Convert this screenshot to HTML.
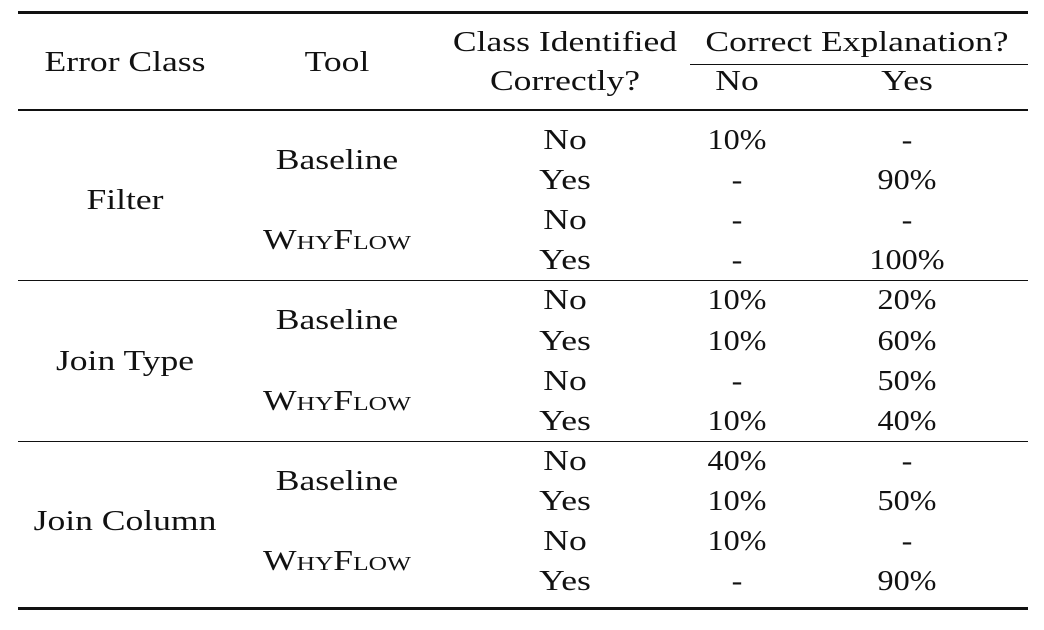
<!DOCTYPE html>
<html><head><meta charset="utf-8"><style>
body{margin:0;width:1044px;height:630px;background:#fff;overflow:hidden;position:relative;font-family:"Liberation Serif",serif;color:#111;}
.t{position:absolute;font-size:28px;line-height:1;transform:translate(-50%,-50%) scaleX(1.27);white-space:nowrap;}
.t.n{transform:translate(-50%,-50%) scaleX(1.15);}
.r{position:absolute;background:#111;}
.sc{font-variant:small-caps;}
</style></head><body>
<div class="r" style="left:18px;top:11px;width:1010px;height:3px"></div>
<div class="r" style="left:690px;top:64px;width:338px;height:1px"></div>
<div class="r" style="left:18px;top:109px;width:1010px;height:2px"></div>
<div class="r" style="left:18px;top:280px;width:1010px;height:1px"></div>
<div class="r" style="left:18px;top:441px;width:1010px;height:1px"></div>
<div class="r" style="left:18px;top:607px;width:1010px;height:3px"></div>

<div class="t" style="left:125px;top:63px">Error Class</div>
<div class="t" style="left:337px;top:63px">Tool</div>
<div class="t" style="left:565px;top:43px">Class Identified</div>
<div class="t" style="left:565px;top:82px">Correctly?</div>
<div class="t" style="left:857px;top:43px">Correct Explanation?</div>
<div class="t" style="left:737px;top:82px">No</div>
<div class="t" style="left:907px;top:82px">Yes</div>

<div id="body"></div>
<script>
const groups=["Filter","Join Type","Join Column"];
const tools=["Baseline","WhyFlow"];
const ident=["No","Yes"];
const noCol=["10%","-","-","-","10%","10%","-","10%","40%","10%","10%","-"];
const yesCol=["-","90%","-","100%","20%","60%","50%","40%","-","50%","-","90%"];
const b=document.getElementById('body');
function add(txt,x,y,name,cls){const d=document.createElement('div');d.className='t'+(cls?' '+cls:'');d.textContent=txt;d.style.left=x+'px';d.style.top=y+'px';


b.appendChild(d);}
const y0=141,dy=40.1;
for(let g=0;g<3;g++){
 add(groups[g],125,y0+(g*4+1.5)*dy,'error-class-label');
 for(let t=0;t<2;t++){
  add(tools[t],337,y0+(g*4+t*2+0.5)*dy,'tool-label',t==1?'sc':'');
  for(let k=0;k<2;k++){const i=g*4+t*2+k;const y=y0+i*dy;
   add(ident[k],565,y,'class-identified-cell');
   add(noCol[i],737,y,'explanation-no-cell','n');
   add(yesCol[i],907,y,'explanation-yes-cell','n');}
 }
}
</script>
</body></html>
